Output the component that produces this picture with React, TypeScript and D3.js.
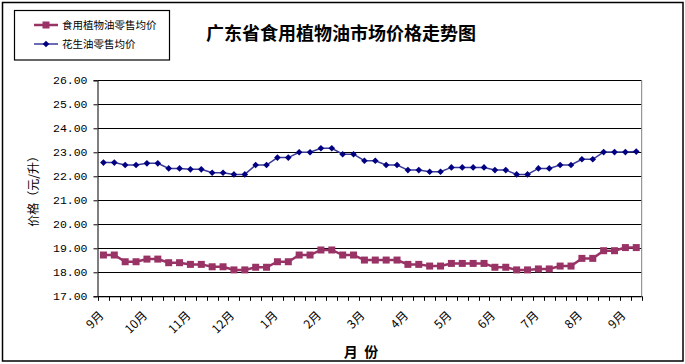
import * as d3 from 'd3';
import { useRef, useEffect } from 'react';

// CHART SETUP
const W = 685;
const H = 364;
const PLOT = { LEFT: 98, RIGHT: 641.7, TOP: 80.3, BOTTOM: 296.3 };
const COLOR = {
  VEG: '#993366',
  PEANUT: '#000080',
  PEANUT_LINE: '#3a3a9a',
  GRID: '#000000',
  TEXT: '#000000',
};
const CJK = '"Noto Sans CJK SC", sans-serif';
const MONO = '"Liberation Mono", "DejaVu Sans Mono", monospace';

// DATA
const monthLabels = ['9月', '10月', '11月', '12月', '1月', '2月', '3月', '4月', '5月', '6月', '7月', '8月', '9月'];
const LABEL_EVERY = 4;
const vegOil = [
  18.72, 18.72, 18.44, 18.44, 18.55, 18.55, 18.4, 18.4, 18.33, 18.33,
  18.23, 18.23, 18.1, 18.1, 18.21, 18.21, 18.44, 18.44, 18.72, 18.72,
  18.93, 18.93, 18.72, 18.72, 18.51, 18.51, 18.51, 18.51, 18.33, 18.33,
  18.26, 18.26, 18.37, 18.37, 18.37, 18.37, 18.21, 18.21, 18.1, 18.1,
  18.14, 18.14, 18.26, 18.26, 18.58, 18.58, 18.9, 18.9, 19.03, 19.03,
];
const peanutOil = [
  22.57, 22.57, 22.47, 22.47, 22.54, 22.54, 22.33, 22.33, 22.29, 22.29,
  22.15, 22.15, 22.08, 22.08, 22.47, 22.47, 22.78, 22.78, 23.0, 23.0,
  23.17, 23.17, 22.92, 22.92, 22.65, 22.65, 22.47, 22.47, 22.26, 22.26,
  22.19, 22.19, 22.37, 22.37, 22.37, 22.37, 22.26, 22.26, 22.08, 22.08,
  22.33, 22.33, 22.47, 22.47, 22.71, 22.71, 23.01, 23.01, 23.01, 23.03,
];
const yTicks = [17, 18, 19, 20, 21, 22, 23, 24, 25, 26];
const seriesNames = ['食用植物油零售均价', '花生油零售均价'];

const App = () => {
  const gRef = useRef<SVGGElement>(null);

  useEffect(() => {
    const g = d3.select(gRef.current);
    g.selectAll('*').remove();

    const idx = d3.range(vegOil.length);
    const x = d3.scaleBand<number>().domain(idx).range([PLOT.LEFT, PLOT.RIGHT]);
    const y = d3.scaleLinear().domain([17, 26]).range([PLOT.BOTTOM, PLOT.TOP]);
    const cx = (i: number) => (x(i) as number) + x.bandwidth() / 2;

    // outer frame
    g.append('rect')
      .attr('x', 2.5).attr('y', 2.5).attr('width', 680.5).attr('height', 358.5)
      .attr('fill', 'white').attr('stroke', '#000').attr('stroke-width', 1.5);

    // gridlines
    g.append('g')
      .selectAll('line')
      .data(yTicks)
      .join('line')
      .attr('x1', PLOT.LEFT).attr('x2', PLOT.RIGHT)
      .attr('y1', (d) => Math.round(y(d)) + 0.5)
      .attr('y2', (d) => Math.round(y(d)) + 0.5)
      .attr('stroke', COLOR.GRID);

    // right border
    g.append('line')
      .attr('x1', PLOT.RIGHT).attr('x2', PLOT.RIGHT)
      .attr('y1', PLOT.TOP).attr('y2', PLOT.BOTTOM)
      .attr('stroke', '#808080');

    // y axis
    const yAxis = g.append('g')
      .attr('transform', `translate(${PLOT.LEFT - 0.5},0)`)
      .call(d3.axisLeft(y).tickValues(yTicks).tickFormat(d3.format('.2f')).tickSize(4).tickPadding(6));
    yAxis.select('.domain').attr('stroke', '#000');
    yAxis.selectAll('text').attr('font-family', MONO).attr('font-size', 11.5).attr('fill', COLOR.TEXT);

    // x axis ticks at category boundaries
    const bounds = d3.range(vegOil.length + 1).map((i) => PLOT.LEFT + i * x.step());
    g.append('line')
      .attr('x1', PLOT.LEFT).attr('x2', PLOT.RIGHT)
      .attr('y1', PLOT.BOTTOM + 0.5).attr('y2', PLOT.BOTTOM + 0.5)
      .attr('stroke', '#000');
    g.append('g')
      .selectAll('line')
      .data(bounds)
      .join('line')
      .attr('x1', (d) => Math.round(d) + 0.5).attr('x2', (d) => Math.round(d) + 0.5)
      .attr('y1', PLOT.BOTTOM).attr('y2', PLOT.BOTTOM + 4.5)
      .attr('stroke', '#000');

    g.append('g')
      .selectAll('text')
      .data(monthLabels)
      .join('text')
      .attr('transform', (d, i) => `translate(${cx(i * LABEL_EVERY) + 1},${PLOT.BOTTOM + 20}) rotate(-45)`)
      .attr('text-anchor', 'end')
      .attr('font-family', CJK)
      .attr('font-size', 12)
      .attr('fill', COLOR.TEXT)
      .text((d) => d);

    // series
    const line = (vals: number[]) =>
      d3.line<number>().x((d, i) => cx(i)).y((d) => y(d))(vals);

    g.append('path')
      .attr('d', line(peanutOil))
      .attr('fill', 'none').attr('stroke', COLOR.PEANUT_LINE).attr('stroke-width', 1.5);
    g.append('g')
      .selectAll('path')
      .data(peanutOil)
      .join('path')
      .attr('d', d3.symbol(d3.symbolSquare, 22)())
      .attr('transform', (d, i) => `translate(${cx(i)},${y(d)}) rotate(45)`)
      .attr('fill', COLOR.PEANUT);

    g.append('path')
      .attr('d', line(vegOil))
      .attr('fill', 'none').attr('stroke', COLOR.VEG).attr('stroke-width', 2.5);
    g.append('g')
      .selectAll('rect')
      .data(vegOil)
      .join('rect')
      .attr('x', (d, i) => cx(i) - 3.5).attr('y', (d) => y(d) - 3.5)
      .attr('width', 7).attr('height', 7)
      .attr('fill', COLOR.VEG);

    // legend
    const lg = g.append('g');
    lg.append('rect')
      .attr('x', 14.5).attr('y', 10.5).attr('width', 155).attr('height', 49.5)
      .attr('fill', 'white').attr('stroke', '#000').attr('stroke-width', 1.2);
    const lgColors = [COLOR.VEG, COLOR.PEANUT];
    seriesNames.forEach((name, k) => {
      const ly = 25 + k * 19;
      lg.append('line')
        .attr('x1', 34).attr('x2', 58).attr('y1', ly).attr('y2', ly)
        .attr('stroke', k === 0 ? COLOR.VEG : COLOR.PEANUT_LINE)
        .attr('stroke-width', k === 0 ? 2.5 : 1.5);
      if (k === 0) {
        lg.append('rect').attr('x', 42.5).attr('y', ly - 3.5).attr('width', 7).attr('height', 7).attr('fill', lgColors[k]);
      } else {
        lg.append('path')
          .attr('d', d3.symbol(d3.symbolSquare, 22)())
          .attr('transform', `translate(46,${ly}) rotate(45)`)
          .attr('fill', lgColors[k]);
      }
      lg.append('text')
        .attr('x', 62).attr('y', ly).attr('dy', '0.35em')
        .attr('font-family', CJK).attr('font-size', 10.5).attr('fill', COLOR.TEXT)
        .text(name);
    });

    // titles
    g.append('text')
      .attr('x', 341).attr('y', 40)
      .attr('text-anchor', 'middle')
      .attr('font-family', CJK).attr('font-size', 18).attr('font-weight', 'bold')
      .text('广东省食用植物油市场价格走势图');

    g.append('text')
      .attr('transform', `translate(34,${(PLOT.TOP + PLOT.BOTTOM) / 2}) rotate(-90)`)
      .attr('text-anchor', 'middle').attr('dy', '0.35em')
      .attr('font-family', CJK).attr('font-size', 12)
      .text('价格（元/升）');

    g.append('text')
      .attr('x', 361).attr('y', 357)
      .attr('text-anchor', 'middle')
      .attr('font-family', CJK).attr('font-size', 14).attr('font-weight', 'bold')
      .attr('xml:space', 'preserve')
      .text('月  份');
  }, []);

  return (
    <svg width={W} height={H} style={{ position: 'absolute', left: 0, top: 0, display: 'block' }}>
      <g ref={gRef} />
    </svg>
  );
};

export default App;
